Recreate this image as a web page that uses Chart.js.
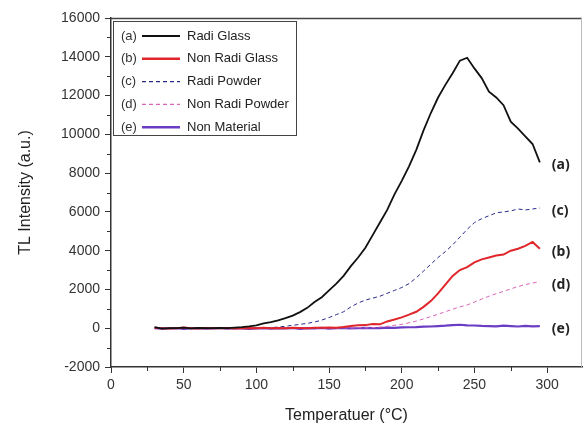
<!DOCTYPE html>
<html>
<head>
<meta charset="utf-8">
<script src="https://cdn.jsdelivr.net/npm/chart.js@4/dist/chart.umd.min.js"></script>
<style>
  body { margin: 0; background: #fff; }
  #wrap { width: 583px; height: 426px; }
</style>
</head>
<body>
<div id="wrap"><canvas id="tlChart" width="583" height="426"></canvas></div>
<script>
// temperature (deg C) and TL intensity
var temps = [30,35,40,45,50,55,60,65,70,75,80,85,90,95,100,105,110,115,120,125,
             130,135,140,145,150,155,160,165,170,175,180,185,190,195,200,205,210,215,220,225,
             230,235,240,245,250,255,260,265,270,275,280,285,290,295];

var radiGlass = [60,-20,10,0,30,-10,20,0,10,20, 0,30,60,100,150,250,320,400,520,650,
                 830,1050,1350,1600,1950,2300,2700,3200,3650,4150, 4800,5450,6100,6900,7600,8350,9200,10200,11100,11900,
                 12550,13150,13800,13950,13400,12900,12200,11900,11500,10650, 10300,9900,9500,8550];
var nonRadiGlass = [20,0,-10,0,40,0,-10,10,0,0, 10,-10,0,10,0,20,0,10,0,20,
                    10,0,30,20,40,30,60,120,150,160, 220,200,350,450,560,700,850,1100,1400,1800,
                    2250,2700,3000,3150,3400,3550,3650,3750,3800,4000, 4100,4250,4450,4100];
var radiPowder = [0,10,-10,0,20,0,-10,10,0,10, 0,10,0,-10,10,30,30,60,100,150,
                  200,250,320,420,550,700,850,1100,1300,1450, 1550,1650,1800,1950,2100,2300,2600,2950,3300,3650,
                  3950,4300,4700,5100,5450,5650,5800,5950,6000,6050, 6150,6100,6150,6200];
var nonRadiPowder = [0,-10,10,0,0,10,-10,0,10,0, 0,10,-10,0,10,0,0,10,-10,0,
                     10,0,10,20,0,10,20,10,30,20, 30,60,100,150,200,280,370,480,600,720,
                     850,980,1100,1200,1350,1500,1650,1780,1900,2030, 2150,2250,2330,2400];
var nonMaterial = [0,-20,-10,0,-30,-10,0,-20,-10,10, -20,0,-10,-30,-10,0,-20,0,-10,10,
                   -30,0,-10,20,-20,0,10,-10,0,20, 0,10,30,20,40,50,60,80,90,110,
                   130,160,180,150,140,120,110,100,130,110, 90,120,100,110];

var seriesNames = ['Radi Glass', 'Non Radi Glass', 'Radi Powder', 'Non Radi Powder', 'Non Material'];
var seriesTags = ['(a)', '(b)', '(c)', '(d)', '(e)'];
var xTicks = [0, 50, 100, 150, 200, 250, 300];
var yTicks = [-2000, 0, 2000, 4000, 6000, 8000, 10000, 12000, 14000, 16000];

function pts(vals) {
    return temps.map(function(t, i) { return { x: t, y: vals[i] }; });
}

var styles = [
    { color: '#111111', width: 1.8, dash: [] },
    { color: '#e0262b', width: 2, dash: [] },
    { color: '#2a2a8c', width: 1, dash: [4, 3] },
    { color: '#d865b8', width: 1, dash: [4, 3] },
    { color: '#6a3dc4', width: 2.2, dash: [] }
];
var allSeries = [radiGlass, nonRadiGlass, radiPowder, nonRadiPowder, nonMaterial];

var datasets = allSeries.map(function(vals, i) {
    return {
        label: seriesNames[i],
        data: pts(vals),
        borderColor: styles[i].color,
        borderWidth: styles[i].width,
        borderDash: styles[i].dash,
        pointRadius: 0,
        tension: 0,
        fill: false
    };
});

var tickFont = { family: "'Liberation Sans', Arial, sans-serif", size: 14 };
var titleFont = { family: "'Liberation Sans', Arial, sans-serif", size: 16 };

// frame, minor ticks, legend box and end labels
var extras = {
    id: 'extras',
    afterDraw: function(chart) {
        var ctx = chart.ctx;
        var a = chart.chartArea;
        var xs = chart.scales.x, ys = chart.scales.y;
        ctx.save();
        ctx.lineWidth = 1.5;
        ctx.strokeStyle = '#444';
        ctx.beginPath();
        ctx.moveTo(a.left, a.top + 0.5);
        ctx.lineTo(a.right, a.top + 0.5);
        ctx.stroke();
        ctx.lineWidth = 1;
        ctx.strokeStyle = '#bbb';
        ctx.beginPath();
        ctx.moveTo(a.right - 0.5, a.top);
        ctx.lineTo(a.right - 0.5, a.bottom);
        ctx.stroke();

        // minor ticks
        ctx.strokeStyle = '#333';
        ctx.lineWidth = 1;
        ctx.beginPath();
        for (var i = 0; i < xTicks.length; i++) {
            var px = Math.round(xs.getPixelForValue(xTicks[i] + 25)) + 0.5;
            if (px > a.right - 2) continue;
            ctx.moveTo(px, a.bottom);
            ctx.lineTo(px, a.bottom + 4);
        }
        for (var j = 0; j < yTicks.length - 1; j++) {
            var py = Math.round(ys.getPixelForValue(yTicks[j] + 1000)) + 0.5;
            ctx.moveTo(a.left, py);
            ctx.lineTo(a.left - 4, py);
        }
        ctx.stroke();

        // legend
        var lx = a.left + 2, ly = a.top + 3, lw = 183, lh = 114;
        ctx.fillStyle = '#fff';
        ctx.fillRect(lx, ly, lw, lh);
        ctx.strokeStyle = '#444';
        ctx.lineWidth = 1;
        ctx.strokeRect(lx + 0.5, ly + 0.5, lw, lh);
        ctx.font = "13px 'Liberation Sans', Arial, sans-serif";
        ctx.textBaseline = 'middle';
        chart.data.datasets.forEach(function(ds, k) {
            var rowY = ly + 15 + k * 22.8;
            ctx.fillStyle = '#333';
            ctx.textAlign = 'left';
            ctx.fillText(seriesTags[k], lx + 8, rowY);
            ctx.strokeStyle = ds.borderColor;
            ctx.lineWidth = ds.borderWidth + 0.4;
            ctx.setLineDash(ds.borderDash);
            ctx.beginPath();
            ctx.moveTo(lx + 29, rowY);
            ctx.lineTo(lx + 67, rowY);
            ctx.stroke();
            ctx.setLineDash([]);
            ctx.fillStyle = '#222';
            ctx.fillText(ds.label, lx + 74, rowY);
        });

        // end labels
        ctx.font = "bold 14px 'Noto Sans', 'DejaVu Sans', sans-serif";
        ctx.fillStyle = '#222';
        ctx.textAlign = 'left';
        chart.data.datasets.forEach(function(ds, k) {
            var last = ds.data[ds.data.length - 1];
            var ex = xs.getPixelForValue(last.x) + 12;
            var ey = ys.getPixelForValue(last.y) + 3;
            ctx.fillText(seriesTags[k], ex, ey);
        });
        ctx.restore();
    }
};

var chart = new Chart(document.getElementById('tlChart').getContext('2d'), {
    type: 'line',
    data: { datasets: datasets },
    options: {
        responsive: false,
        animation: false,
        layout: { padding: { top: 18, right: 1, left: 0, bottom: 0 } },
        plugins: {
            legend: { display: false },
            tooltip: { enabled: false }
        },
        scales: {
            x: {
                type: 'linear',
                min: 0,
                max: 324,
                afterBuildTicks: function(s) { s.ticks = xTicks.map(function(v) { return { value: v }; }); },
                afterFit: function(s) { s.height = 59; },
                ticks: { font: tickFont, color: '#333', padding: 4, maxRotation: 0,
                         callback: function(v) { return String(v); } },
                grid: { drawOnChartArea: false, drawTicks: true, tickLength: 6, tickColor: '#333' },
                border: { display: true, color: '#333', width: 1.5 },
                title: { display: true, text: 'Temperatuer (°C)', font: titleFont, color: '#222', padding: { top: 0, bottom: 1 } }
            },
            y: {
                min: -2000,
                max: 16000,
                afterBuildTicks: function(s) { s.ticks = yTicks.map(function(v) { return { value: v }; }); },
                afterFit: function(s) { s.width = 111; },
                ticks: { font: tickFont, color: '#333', padding: 5,
                         callback: function(v) { return String(v); } },
                grid: { drawOnChartArea: false, drawTicks: true, tickLength: 6, tickColor: '#333' },
                border: { display: true, color: '#333', width: 1.5 },
                title: { display: true, text: 'TL Intensity (a.u.)', font: titleFont, color: '#222', padding: { top: 16, bottom: 0 } }
            }
        }
    },
    plugins: [extras]
});
</script>
</body>
</html>
